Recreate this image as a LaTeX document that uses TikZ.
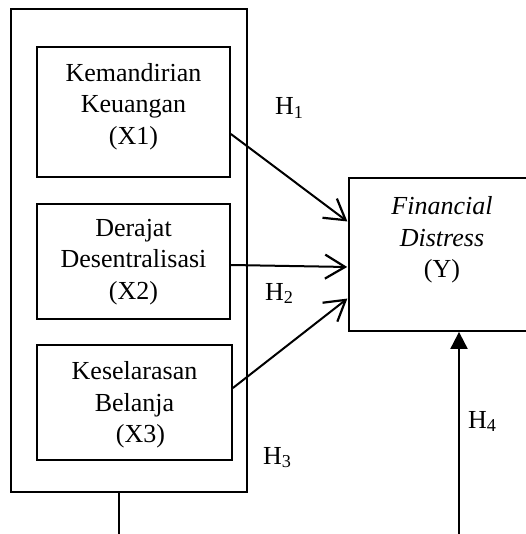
\documentclass[tikz,border=0pt]{standalone}
\usepackage{fontspec}
\setmainfont{Liberation Serif}
\usetikzlibrary{arrows.meta}
\tikzset{
  box/.style={draw, line width=1.8pt, rectangle, inner sep=0pt},
  txt/.style={align=center, font=\fontsize{26}{31.5}\selectfont, inner sep=0pt},
  hlab/.style={anchor=base west, inner sep=0pt, font=\fontsize{26}{31}\selectfont},
  link/.style={line width=2pt, shorten >=0.9pt, -{Straight Barb[length=20pt,width=24pt,line width=2.2pt]}},
  filled/.style={line width=2pt, -{Triangle[length=17pt,width=17pt]}},
  plain/.style={line width=2pt}
}
\begin{document}
\begin{tikzpicture}[x=1pt,y=-1pt]
\useasboundingbox (0,0) rectangle (525,534);
% outer box
\node[box, minimum width=236pt, minimum height=483pt] (outer) at (129,250.5) {};
% inner boxes
\node[box, minimum width=193pt, minimum height=130pt] (b1) at (133.5,112) {};
\node[txt] (t1) at (133.5,106.5) {Kemandirian\\Keuangan\\(X1)};
\node[box, minimum width=193pt, minimum height=115pt] (b2) at (133.5,261.5) {};
\node[txt] (t2) at (133.5,262) {Derajat\\Desentralisasi\\(X2)};
\node[box, minimum width=195pt, minimum height=115pt] (b3) at (134.5,402.5) {};
\node[txt] (t3) at (134.5,405) {Keselarasan\\Belanja\\\hspace*{12pt}(X3)};
% Y box
\node[box, minimum width=186pt, minimum height=153pt] (Y) at (442,254.5) {};
\node[txt] (ty) at (442,240) {\textit{Financial}\\\textit{Distress}\\(Y)};
% arrows
\draw[link] ([yshift=-22pt]b1.east) -- ([yshift=32.5pt]Y.west);
\draw[link] ([yshift=-3.5pt]b2.east) -- ([yshift=-12.5pt]Y.west);
\draw[link] ([yshift=14.5pt]b3.east) -- ([yshift=-43.5pt]Y.west);
% bottom lines
\coordinate (c1) at (119,536);
\coordinate (c2) at (459,536);
\draw[plain] (outer.south -| c1) -- (c1);
\draw[filled] (c2) -- (Y.south -| c2);
% labels
\node[hlab] (h1) at (275,115) {H\textsubscript{1}};
\node[hlab] (h2) at (265,300) {H\textsubscript{2}};
\node[hlab] (h3) at (263,464) {H\textsubscript{3}};
\node[hlab] (h4) at (468,428) {H\textsubscript{4}};
\end{tikzpicture}
\end{document}
